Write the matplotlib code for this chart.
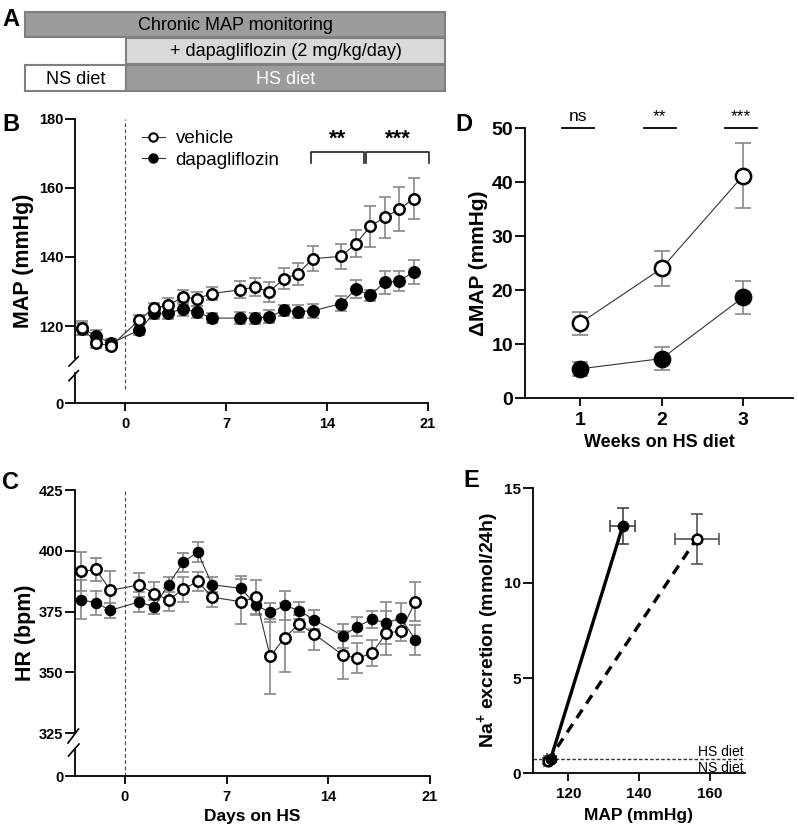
import numpy as np
import matplotlib
matplotlib.use("Agg")
import matplotlib.pyplot as plt
from matplotlib.patches import Rectangle
from matplotlib.lines import Line2D

plt.rcParams['font.family'] = ['Liberation Sans', 'DejaVu Sans']
plt.rcParams['font.weight'] = 'bold'
plt.rcParams['axes.labelweight'] = 'bold'
plt.rcParams['mathtext.fontset'] = 'custom'
plt.rcParams['mathtext.rm'] = 'Liberation Sans'
plt.rcParams['mathtext.bf'] = 'Liberation Sans:bold'

# ---- data ----
days = [-3, -2, -1, 1, 2, 3, 4, 5, 6, 8, 9, 10, 11, 12, 13, 15, 16, 17, 18, 19, 20]

# B: MAP (mmHg)
map_veh = [119.5, 115.2, 114.1, 121.8, 125.2, 126.0, 128.4, 127.9, 129.4, 130.5, 131.3,
           129.9, 133.7, 135.2, 139.5, 140.2, 143.9, 148.9, 151.5, 153.8, 156.9]
map_veh_err = [2.0, 1.5, 1.0, 1.5, 1.5, 2.0, 2.0, 2.0, 2.0, 2.5, 2.5,
               2.8, 3.0, 3.2, 3.7, 3.7, 4.0, 5.9, 5.9, 6.4, 6.0]
map_dapa = [119.2, 117.2, 115.0, 118.8, 123.7, 123.7, 125.0, 124.0, 122.3, 122.3, 122.2,
            122.7, 124.5, 124.2, 124.4, 126.5, 130.7, 128.9, 132.7, 133.0, 135.7]
map_dapa_err = [1.8, 1.5, 1.2, 1.5, 1.8, 1.8, 2.0, 1.8, 1.5, 1.8, 1.5,
                1.8, 1.5, 1.8, 2.0, 2.2, 2.6, 1.6, 3.3, 3.0, 3.4]

# C: HR (bpm)
hr_veh = [391.5, 392.3, 383.7, 386.0, 382.3, 379.8, 384.1, 387.4, 380.9, 379.0, 380.8,
          356.5, 364.3, 369.9, 365.8, 357.1, 355.8, 357.8, 366.1, 367.0, 379.1]
hr_veh_err = [7.9, 4.6, 8.0, 5.0, 4.7, 4.7, 5.3, 4.0, 4.0, 9.2, 7.0,
              15.5, 14.0, 3.5, 6.5, 10.0, 6.3, 5.4, 9.0, 4.3, 8.0]
hr_dapa = [379.8, 378.6, 375.5, 379.0, 376.8, 386.1, 395.2, 399.5, 386.0, 384.5, 377.7,
           374.6, 377.5, 375.4, 371.6, 365.0, 368.8, 371.8, 370.3, 372.3, 363.3]
hr_dapa_err = [8.0, 5.0, 3.0, 4.0, 3.0, 3.0, 4.0, 4.0, 3.0, 5.0, 4.0,
               4.0, 6.0, 3.5, 4.0, 5.0, 4.0, 3.5, 8.5, 6.0, 6.0]

# D: delta MAP by week
weeks = [1, 2, 3]
dmap_veh = [13.85, 24.0, 41.2]
dmap_veh_err = [2.1, 3.3, 6.0]
dmap_dapa = [5.4, 7.3, 18.65]
dmap_dapa_err = [1.3, 2.1, 3.05]
sig_d = ['ns', '**', '***']

# E: Na+ excretion vs MAP (NS diet -> HS diet)
e_map_veh = [114.2, 156.3]
e_map_veh_err = [1.0, 6.2]
e_na_veh = [0.62, 12.33]
e_na_veh_err = [0.15, 1.32]
e_map_dapa = [115.0, 135.4]
e_map_dapa_err = [1.0, 3.5]
e_na_dapa = [0.74, 13.0]
e_na_dapa_err = [0.15, 0.94]
diet_line = 0.75

W, H = 798, 838
fig = plt.figure(figsize=(W / 100, H / 100), dpi=100)


def px_axes(l, t, r, b):
    return fig.add_axes([l / W, 1 - b / H, (r - l) / W, (b - t) / H])


def style(ax, size, bottom=True):
    ax.spines['top'].set_visible(False)
    ax.spines['right'].set_visible(False)
    ax.spines['left'].set_linewidth(1.3)
    ax.spines['bottom'].set_linewidth(1.3)
    ax.spines['bottom'].set_visible(bottom)
    ax.tick_params(width=1.3, length=7, labelsize=size, pad=1.5)
    ax.tick_params(axis='x', length=6, pad=4)
    ax.patch.set_alpha(0)


def fig_line(x, y, **kw):
    fig.add_artist(Line2D([v / W for v in x], [1 - v / H for v in y],
                          transform=fig.transFigure, color='black', lw=1.2, **kw))


def series(ax, x, y, err, filled, ms=7.5, cap=4):
    ax.errorbar(x, y, yerr=err, fmt='none', ecolor='#888888', elinewidth=1.2,
                capsize=cap, capthick=1.2, zorder=2)
    ax.plot(x, y, '-', color='#333333', lw=0.8, zorder=3)
    ax.plot(x, y, 'o', ms=ms, mfc='black' if filled else 'white', mec='black',
            mew=1.8, zorder=4, linestyle='none')


# ---------------- A: protocol ----------------
axA = px_axes(0, 0, W, 100)
axA.set_xlim(0, W)
axA.set_ylim(100, 0)
axA.axis('off')
boxes = [(25, 12, 420, 25, '#9c9c9c', 'Chronic MAP monitoring', 'black'),
         (126, 38, 319, 26, '#d9d9d9', '+ dapagliflozin (2 mg/kg/day)', 'black'),
         (25, 65, 101, 26, 'white', 'NS diet', 'black'),
         (126, 65, 319, 26, '#9c9c9c', 'HS diet', 'white')]
for x0, y0, w, h, fc, txt, tc in boxes:
    axA.add_patch(Rectangle((x0, y0), w, h, facecolor=fc, edgecolor='#808080', lw=1.5))
    axA.text(x0 + w / 2, y0 + h / 2 + 1, txt, ha='center', va='center',
             fontsize=13, fontweight='normal', color=tc)

# ---------------- B: MAP ----------------
axB = px_axes(75, 119, 428, 358)
axB2 = px_axes(75, 373, 428, 403)
for a in (axB, axB2):
    a.set_xlim(-3.47, 21)
axB.set_ylim(180 - 239 / 3.45, 180)
axB.set_yticks([120, 140, 160, 180])
axB.set_xticks([])
style(axB, 10.5, bottom=False)
axB2.set_ylim(0, 10)
axB2.set_yticks([0])
axB2.set_xticks([0, 7, 14, 21])
style(axB2, 10.5)
axB.axvline(0, ymin=-0.13, ymax=1, color='#555555', lw=0.9, ls=(0, (3, 2)), clip_on=False)
series(axB, days, map_dapa, map_dapa_err, True)
series(axB, days, map_veh, map_veh_err, False)
fig_line([69, 78.3], [366, 356.7])
fig_line([69, 78.3], [380.7, 370.7])

hv = [Line2D([], [], color='#333333', lw=0.8, marker='o', ms=6, mfc='white', mec='black', mew=1.5),
      Line2D([], [], color='#333333', lw=0.8, marker='o', ms=6, mfc='black', mec='black', mew=1.5)]
axB.legend(hv, ['vehicle', 'dapagliflozin'], frameon=False, loc='upper left',
           bbox_to_anchor=(142 / W, 1 - 130 / H), bbox_transform=fig.transFigure,
           prop={'size': 13.5, 'weight': 'normal'}, handlelength=1.2,
           handletextpad=0.6, labelspacing=0.25, borderpad=0, borderaxespad=0)

for x0, x1, lab in [(12.9, 16.55, '**'), (16.7, 21.1, '***')]:
    axB.plot([x0, x0, x1, x1], [167.2, 170.4, 170.4, 167.2], color='#222222', lw=1.2,
             clip_on=False)
    axB.text((x0 + x1) / 2, 171.0, lab, ha='center', va='bottom', fontsize=16)

# ---------------- C: HR ----------------
axC = px_axes(75, 490, 430, 733)
axC2 = px_axes(75, 749, 430, 776)
for a in (axC, axC2):
    a.set_xlim(-3.44, 21)
axC.set_ylim(325, 425)
axC.set_yticks([325, 350, 375, 400, 425])
axC.set_xticks([])
style(axC, 10.5, bottom=False)
axC2.set_ylim(0, 10)
axC2.set_yticks([0])
axC2.set_xticks([0, 7, 14, 21])
style(axC2, 10.5)
axC2.set_xlabel('Days on HS', fontsize=12.5, labelpad=4)
axC.axvline(0, ymin=-0.175, ymax=1, color='#555555', lw=0.9, ls=(0, (3, 2)), clip_on=False)
series(axC, days, hr_dapa, hr_dapa_err, True, ms=6.5)
series(axC, days, hr_veh, hr_veh_err, False)
fig_line([68, 78.5], [743, 729])
fig_line([68.5, 79], [756, 744])

# ---------------- D: delta MAP ----------------
axD = px_axes(525, 128, 793, 398)
axD.set_xlim(0.325, 3.61)
axD.set_ylim(0, 50)
axD.set_xticks(weeks)
axD.set_yticks([0, 10, 20, 30, 40, 50])
style(axD, 14)
axD.set_xlabel('Weeks on HS diet', fontsize=13, labelpad=4)
series(axD, weeks, dmap_dapa, dmap_dapa_err, True, ms=11, cap=5.5)
series(axD, weeks, dmap_veh, dmap_veh_err, False, ms=11, cap=5.5)
for w, lab in zip(weeks, sig_d):
    axD.plot([w - 0.22, w + 0.17], [50, 50], color='black', lw=1.3, clip_on=False)
    axD.text(w - 0.025, 50.8, lab, ha='center', va='bottom', fontsize=12.5,
             fontweight='normal')

# ---------------- E: Na excretion vs MAP ----------------
axE = px_axes(533, 488, 745, 773)
axE.set_xlim(110, 170)
axE.set_ylim(0, 15)
axE.set_xticks([120, 140, 160])
axE.set_yticks([0, 5, 10, 15])
style(axE, 11)
axE.set_xlabel('MAP (mmHg)', fontsize=12.5, labelpad=5)
axE.axhline(diet_line, color='#333333', lw=1.0, ls=(0, (2.5, 1.5)))
axE.text(169.5, 0.9, 'HS diet', ha='right', va='baseline', fontsize=10, fontweight='normal')
axE.text(169.5, 0.07, 'NS diet', ha='right', va='baseline', fontsize=10, fontweight='normal')
axE.errorbar(e_map_dapa, e_na_dapa, xerr=e_map_dapa_err, yerr=e_na_dapa_err, fmt='none',
             ecolor='#444444', elinewidth=1.2, capsize=4, capthick=1.2, zorder=2)
axE.errorbar(e_map_veh, e_na_veh, xerr=e_map_veh_err, yerr=e_na_veh_err, fmt='none',
             ecolor='#555555', elinewidth=1.2, capsize=4, capthick=1.2, zorder=2)
axE.plot(e_map_dapa, e_na_dapa, '-', color='black', lw=2.4, zorder=3)
axE.plot(e_map_veh, e_na_veh, '--', color='black', lw=2.4, dashes=(3, 2.2), zorder=3)
axE.plot(e_map_veh, e_na_veh, 'o', ms=7, mfc='white', mec='black', mew=1.8, zorder=4)
axE.plot(e_map_dapa, e_na_dapa, 'o', ms=7, mfc='black', mec='black', mew=1.5, zorder=5)

# ---------------- axis titles & panel letters ----------------
fig.text(24 / W, 1 - 261 / H, 'MAP (mmHg)', rotation=90, ha='center', va='center', fontsize=15.5)
fig.text(25 / W, 1 - 633 / H, 'HR (bpm)', rotation=90, ha='center', va='center', fontsize=15.5)
fig.text(479 / W, 1 - 263 / H, 'ΔMAP (mmHg)', rotation=90, ha='center', va='center', fontsize=15)
fig.text(489 / W, 1 - 630 / H, r'Na$^{\mathbf{+}}$ excretion (mmol/24h)', rotation=90,
         ha='center', va='center', fontsize=14)

for lab, x, y in [('A', 2, 8), ('B', 2, 113), ('C', 2, 471), ('D', 455, 113), ('E', 463, 469)]:
    fig.text(x / W, 1 - y / H, lab, ha='left', va='top', fontsize=17)

fig.savefig('out.png', dpi=100)
